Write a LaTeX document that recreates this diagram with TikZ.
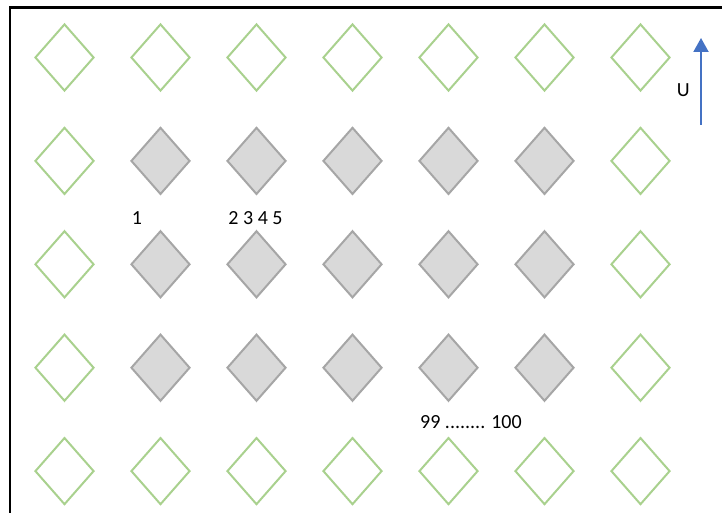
\documentclass[tikz,border=0pt]{standalone}
\usepackage{fontspec}
\setmainfont{Carlito}
\usepackage{xcolor}
\usepackage{tikz}
\usetikzlibrary{shapes.geometric, arrows.meta, positioning}
\definecolor{cellgreen}{HTML}{A9D18E}
\definecolor{cellgrey}{HTML}{D9D9D9}
\definecolor{celledge}{HTML}{A6A6A6}
\definecolor{arrowblue}{HTML}{4472C4}
\tikzset{
  cell/.style={diamond, minimum width=59pt, minimum height=67pt,
               inner sep=0pt, line width=2pt},
  wallcell/.style={cell, draw=cellgreen},
  fluidcell/.style={cell, draw=celledge, fill=cellgrey},
  uarrow/.style={-{Triangle[length=14pt, width=15pt]}, line width=2pt, color=arrowblue},
  label/.style={font=\fontsize{20}{24}\selectfont, inner sep=0pt},
}

\begin{document}
\begin{tikzpicture}[x=1pt, y=-1pt]

  \useasboundingbox (0,0) rectangle (722,513);

  % frame (open on the right and at the bottom)
  \draw[line width=2.4pt] (10,560) -- (10,7.5) -- (760,7.5);

  % grid of cells: green border, grey interior
  \foreach \r in {1,...,5} {
    \foreach \c in {1,...,7} {
      \pgfmathsetmacro{\cx}{64.5 + 96*(\c-1)}
      \pgfmathsetmacro{\cy}{57.5 + 103.4*(\r-1)}
      \ifnum\r=1 \def\kind{wallcell}\else
      \ifnum\r=5 \def\kind{wallcell}\else
      \ifnum\c=1 \def\kind{wallcell}\else
      \ifnum\c=7 \def\kind{wallcell}\else
        \def\kind{fluidcell}\fi\fi\fi\fi
      \node[\kind] (d-\r-\c) at (\cx,\cy) {};
    }
  }

  % numbering
  \node[label] (n1)    at (137,218) {1};
  \node[label] (n2345) at (255.5,218) {2 3 4 5};
  \node[label] (n99)   at (471,422) {99 ........ 100};

  % velocity
  \coordinate (u-tail) at (701,125);
  \coordinate (u-head) at (701,38);
  \draw[uarrow] (u-tail) -- (u-head);
  \node[label, left=11pt of u-tail, yshift=35pt] (u) {U};

\end{tikzpicture}
\end{document}
